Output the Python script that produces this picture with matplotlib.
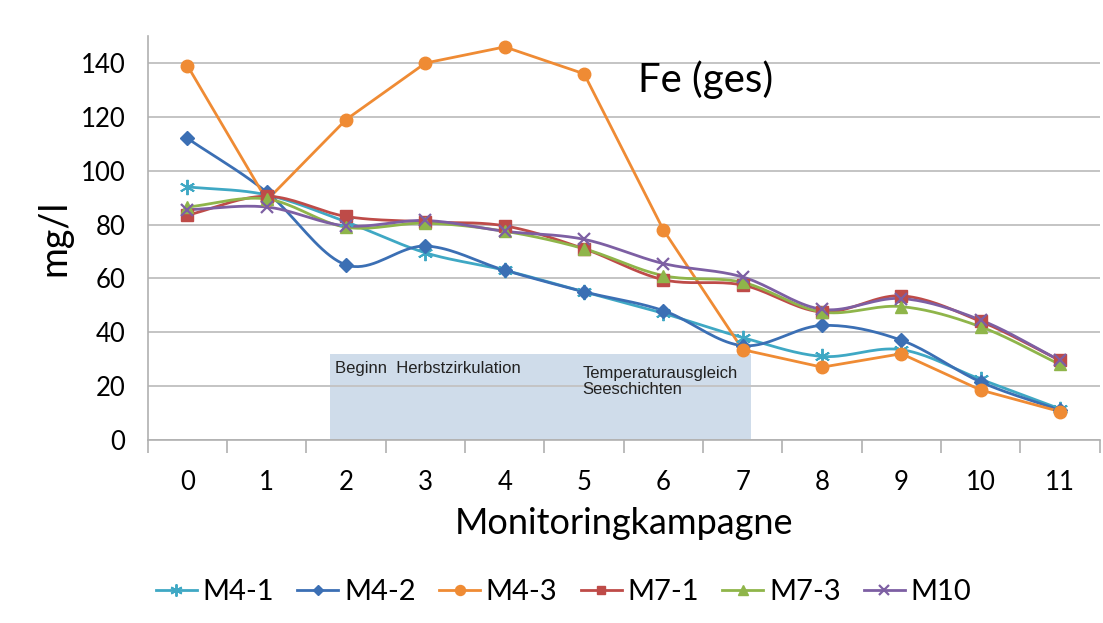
#!/usr/bin/env python3
import numpy as np
import matplotlib.pyplot as plt
import matplotlib.patches as patches

# monitoring campaigns 0..11
kampagne = list(range(12))

m4_1 = [94, 91, 81, 69.5, 63, 55, 47, 38, 31, 33.5, 22.5, 11.5]
m4_2 = [112, 92, 65, 72, 63, 55, 48, 35, 42.5, 37, 21.5, 11]
m4_3 = [139, 89, 119, 140, 146, 136, 78, 33.5, 27, 32, 18.5, 10.5]
m7_1 = [83.5, 90.5, 83, 81, 79.5, 71, 59.5, 57.5, 47.5, 53.5, 44, 29.5]
m7_3 = [86.5, 89.5, 79, 80.5, 77.5, 71, 61, 58.5, 47.5, 49.5, 42, 28]
m10 = [85.5, 86.5, 79.5, 81.5, 77.5, 74.5, 65.5, 60.5, 48.5, 52.5, 44.5, 29.5]

series_names = ['M4-1', 'M4-2', 'M4-3', 'M7-1', 'M7-3', 'M10']
series_values = [m4_1, m4_2, m4_3, m7_1, m7_3, m10]

styles = {
    'M4-1': dict(color='#3fa8c4', marker=(6, 2, 0), ms=11, mew=1.4, smooth=True),
    'M4-2': dict(color='#3b6fb4', marker='D', ms=7, mew=1, smooth=True),
    'M4-3': dict(color='#ef8b34', marker='o', ms=9, mew=1, smooth=False),
    'M7-1': dict(color='#be4b48', marker='s', ms=8, mew=1, smooth=True),
    'M7-3': dict(color='#8fb54a', marker='^', ms=9, mew=1, smooth=True),
    'M10': dict(color='#7d5fa3', marker='x', ms=9, mew=1.6, smooth=True),
}


def smooth_curve(x, y, n=20):
    ''' catmull-rom style curve through the points (like excel smoothed lines)'''
    x = np.asarray(x, float)
    y = np.asarray(y, float)
    px = np.concatenate([[2 * x[0] - x[1]], x, [2 * x[-1] - x[-2]]])
    py = np.concatenate([[2 * y[0] - y[1]], y, [2 * y[-1] - y[-2]]])
    xs, ys = [], []
    t = np.linspace(0, 1, n, endpoint=False)
    for i in range(1, len(px) - 2):
        for p, out in ((px, xs), (py, ys)):
            p0, p1, p2, p3 = p[i - 1], p[i], p[i + 1], p[i + 2]
            c1 = p1 + (p2 - p0) / 6
            c2 = p2 - (p3 - p1) / 6
            out.extend((1 - t) ** 3 * p1 + 3 * (1 - t) ** 2 * t * c1
                       + 3 * (1 - t) * t ** 2 * c2 + t ** 3 * p2)
    xs.append(x[-1])
    ys.append(y[-1])
    return np.array(xs), np.array(ys)


fig = plt.figure(figsize=(11.03, 6.23), dpi=100)
ax = fig.add_axes([0.134, 0.294, 0.863, 0.648])

# shaded period
box = patches.Rectangle((1.8, 0), 5.3, 32, fc='#cfdcea', ec='none', zorder=0.3)
ax.add_patch(box)
ax.text(1.86, 26.5, 'Beginn  Herbstzirkulation', fontsize=12,
        family='Liberation Sans', va='center', ha='left', color='#222222', zorder=3)
ax.text(4.98, 27.5, 'Temperaturausgleich\nSeeschichten', fontsize=12,
        family='Liberation Sans', va='top', ha='left', color='#222222',
        linespacing=1.1, zorder=3)

handles = []
for name, vals in zip(series_names, series_values):
    st = styles[name]
    if st['smooth']:
        sx, sy = smooth_curve(kampagne, vals)
    else:
        sx, sy = kampagne, vals
    ax.plot(sx, sy, color=st['color'], lw=2, zorder=4)
    ax.plot(kampagne, vals, ls='none', marker=st['marker'], ms=st['ms'],
            color=st['color'], mec=st['color'], mew=st['mew'], zorder=5)
    h, = ax.plot([], [], color=st['color'], lw=2, marker=st['marker'],
                 ms=st['ms'] * 0.8, mew=st['mew'], label=name)
    handles.append(h)

ax.text(5.68, 134, 'Fe (ges)', fontsize=29, family='Lato', va='center', ha='left')

ax.set_xlim(-0.5, 11.5)
ax.set_ylim(0, 150)
ax.set_yticks(np.arange(0, 141, 20))
ax.set_xticks(kampagne)
ax.set_xticks(np.arange(-0.5, 12, 1), minor=True)
ax.tick_params(axis='x', which='major', length=0, pad=22, labelsize=18.5)
ax.tick_params(axis='x', which='minor', length=9, color='#b0b0b0', width=1.2)
ax.tick_params(axis='y', length=0, pad=16, labelsize=18.5)
for lab in ax.get_xticklabels() + ax.get_yticklabels():
    lab.set_family('Lato')

ax.grid(axis='y', color='#c4c4c4', lw=1.4, zorder=0.5)
ax.set_axisbelow(True)
for side in ['top', 'right']:
    ax.spines[side].set_visible(False)
for side in ['left', 'bottom']:
    ax.spines[side].set_color('#b0b0b0')
    ax.spines[side].set_linewidth(1.2)

ax.set_xlabel('Monitoringkampagne', fontsize=26, family='Lato', labelpad=8)
ax.set_ylabel('mg/l', fontsize=27, family='Lato', labelpad=6)

fig.legend(handles=handles, loc='center', bbox_to_anchor=(0.511, 0.05),
           ncol=6, frameon=False, handlelength=1.4, handletextpad=0.2,
           columnspacing=0.8, prop=dict(family='Lato', size=21))

fig.savefig('out.png', dpi=100)
